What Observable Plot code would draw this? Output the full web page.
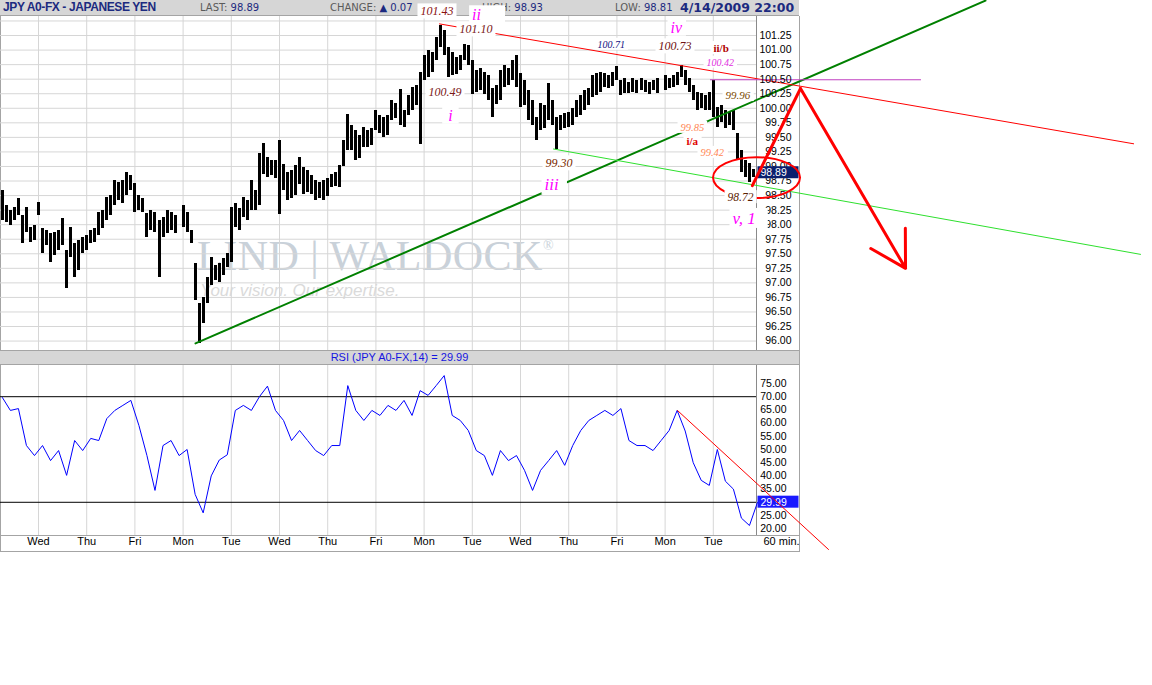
<!DOCTYPE html>
<html><head><meta charset="utf-8">
<script src="https://cdn.jsdelivr.net/npm/d3@7"></script>
<script src="https://cdn.jsdelivr.net/npm/@observablehq/plot@0.6"></script>
<style>
body{margin:0;background:#fff;}
#wrap{position:relative;width:1152px;height:685px;overflow:hidden;background:#fff;font-family:"Liberation Sans",Arial,sans-serif;}
.a{position:absolute;}
.hd{position:absolute;top:1px;font-family:"DejaVu Sans",sans-serif;font-size:10px;color:#5a5a5a;white-space:nowrap;line-height:14px;}
.hd b{font-weight:normal;color:#1c2a80;}
</style></head><body>
<div id="wrap">
  <div class="a" style="left:0;top:0;width:799px;height:15px;background:#d6d6d6;border-bottom:1px solid #a4a4a4;"></div>
  <div class="a" style="left:3px;top:0;font:bold 12px 'Liberation Sans',Arial,sans-serif;letter-spacing:-0.4px;color:#1c2a80;line-height:15px;white-space:nowrap;">JPY A0-FX - JAPANESE YEN</div>
  <div class="hd" style="left:200px;">LAST: <b>98.89</b></div>
  <div class="hd" style="left:330px;">CHANGE: <b>▲ 0.07</b></div>
  <div class="hd" style="left:482px;">HIGH: <b>98.93</b></div>
  <div class="hd" style="left:615px;">LOW: <b>98.81</b></div>
  <div class="a" style="left:680px;top:0;font:bold 12.5px 'DejaVu Sans',sans-serif;color:#1c2a80;line-height:15px;white-space:nowrap;">4/14/2009 22:00</div>
  <!-- panel frames -->
  <div class="a" style="left:0;top:16px;width:798px;height:535px;border:1px solid #a4a4a4;border-top:none;box-sizing:content-box;"></div>
  <div class="a" style="left:0;top:350px;width:799px;height:13px;background:#d6d6d6;border-top:1px solid #a4a4a4;border-bottom:1px solid #a4a4a4;"></div>
  <div class="a" id="rsititle" style="left:0;top:351px;width:799px;height:13px;text-align:center;font:11px 'Liberation Sans Narrow','Liberation Sans',sans-serif;color:#1515e0;line-height:13px;">RSI (JPY A0-FX,14) = 29.99</div>
  <div class="a" style="left:0;top:535px;width:799px;height:1px;background:#a4a4a4;"></div>
  <div class="a" style="left:756px;top:16px;width:1px;height:334px;background:#8a8a8a;"></div>
  <div class="a" style="left:756px;top:365px;width:1px;height:170px;background:#8a8a8a;"></div>
  <!-- watermark -->
  <div class="a" style="left:197px;top:232px;font:42px 'Liberation Serif',serif;color:#c9d1d9;white-space:nowrap;letter-spacing:0.5px;">LIND | WALDOCK<span style="font-size:14px;vertical-align:top;position:relative;top:6px;">®</span></div>
  <div class="a" style="left:200px;top:281px;font:italic 17px 'Liberation Sans',Arial,sans-serif;color:#dadada;white-space:nowrap;">Your vision. Our expertise.</div>
  <div class="a" id="price" style="left:0;top:0;"></div>
  <div class="a" id="rsi" style="left:0;top:364px;"></div>
</div>
<script>
// ---------- data ----------
const days = ["Wed","Thu","Fri","Mon","Tue","Wed","Thu","Fri","Mon","Tue","Wed","Thu","Fri","Mon","Tue"];
const dayTicks = [0,1,2,3,4,5,6,7,8,9,10,11,12,13,14];
const priceTicks = [96.00,96.25,96.50,96.75,97.00,97.25,97.50,97.75,98.00,98.25,98.50,98.75,99.00,99.25,99.50,99.75,100.00,100.25,100.50,100.75,101.00,101.25];
const priceGrid = [96.00,96.25,96.50,96.75,97.00,97.25,97.50,97.75,98.00,98.25,98.50,98.75,99.00,99.25,99.50,99.75,100.00,100.25,100.50,100.75,101.00,101.25,101.50];
const rsiTicks = [20,25,30,35,40,45,50,55,60,65,70,75];
const rsiBands = [70,30];
const lastClose = 98.89;
const lastRsi = 29.99;

// 2-hour bars, 12 per day, first bar at day -0.75 (null = weekend gap)
const barStart = -0.75, barsPerDay = 12;
const barHigh = [98.59,98.33,98.24,98.29,98.45,98.16,98.29,97.95,97.99,98.38,
 97.93,97.90,97.85,97.86,97.90,98.10,97.56,97.95,97.68,97.73,
 97.78,97.81,97.90,97.93,98.21,98.24,98.47,98.50,98.76,98.72,
 98.76,98.90,98.84,98.71,98.50,98.45,98.19,98.24,98.21,98.07,
 98.12,98.24,98.21,98.16,null,98.33,98.21,97.90,97.33,96.64,
 96.75,97.09,97.44,97.30,97.33,97.42,97.50,98.29,98.36,98.28,
 98.47,98.41,98.76,98.59,99.22,99.39,99.15,99.10,99.10,99.45,
 99.03,98.90,98.93,99.02,99.15,98.98,98.93,98.84,98.76,98.72,
 98.76,98.79,98.86,98.90,99.02,99.45,99.89,99.70,99.62,99.53,
 99.67,99.62,99.65,99.96,99.88,99.84,99.88,100.13,100.08,100.32,
 99.96,100.22,100.36,100.39,100.61,100.91,100.99,100.96,101.22,101.43,
 101.34,101.04,100.96,100.87,100.91,101.10,101.08,100.82,100.65,100.68,
 100.61,100.56,100.34,100.39,100.65,100.73,100.68,100.82,100.91,100.60,
 100.48,100.30,100.13,99.84,100.08,100.05,100.43,100.13,99.84,99.88,
 99.91,99.93,100.00,100.13,100.22,100.30,100.34,100.56,100.60,100.61,
 100.60,100.56,100.61,100.71,100.48,100.51,100.44,100.51,100.48,100.51,
 100.48,100.44,100.48,100.51,null,100.56,100.51,100.56,100.61,100.73,
 100.65,100.51,100.39,100.27,100.25,100.22,100.27,100.48,100.01,100.05,
 99.96,99.93,99.96,99.57,99.27,99.10,99.05,98.95];
const barLow = [98.07,98.04,97.99,98.07,98.16,97.68,97.86,97.69,97.73,98.16,
 97.50,97.64,97.35,97.47,97.56,97.64,96.90,97.44,97.09,97.21,
 97.50,97.56,97.68,97.69,97.81,97.93,98.07,98.16,98.33,98.41,
 98.36,98.50,98.59,98.21,98.24,98.21,97.78,97.90,97.86,97.09,
 97.78,97.85,97.90,97.85,null,97.95,97.86,97.68,96.70,95.96,
 96.30,96.64,96.95,97.04,97.01,97.13,97.26,97.35,97.95,97.90,
 98.12,98.07,98.24,98.24,98.33,98.86,98.81,98.84,98.79,98.17,
 98.59,98.41,98.45,98.50,98.69,98.52,98.55,98.52,98.41,98.45,
 98.41,98.48,98.64,98.66,98.64,99.00,99.27,99.27,99.10,99.14,
 99.33,99.33,99.36,99.62,99.57,99.50,99.53,99.79,99.82,99.70,
 99.67,99.88,99.96,100.05,99.38,100.48,100.53,100.61,100.82,101.04,
 100.91,100.53,100.56,100.58,100.65,100.82,100.73,100.24,100.27,100.30,
 100.24,100.13,99.84,100.06,100.13,100.36,100.39,100.48,100.36,100.01,
 100.05,99.79,99.70,99.45,99.62,99.65,99.79,99.70,99.30,99.62,
 99.65,99.67,99.70,99.84,99.88,99.96,100.05,100.18,100.22,100.27,
 100.36,100.34,100.37,100.48,100.22,100.25,100.25,100.27,100.25,100.30,
 100.27,100.24,100.30,100.25,null,100.30,100.34,100.36,100.39,100.53,
 100.39,100.27,100.13,99.96,100.00,99.96,99.96,99.84,99.67,99.75,
 99.65,99.70,99.62,99.10,98.90,98.81,98.72,98.81];

// RSI(14), one reading every 4 hours (6 per day)
const rsiStart = -0.75, rsiPerDay = 6;
const rsiValues = [69.7,64.8,65.5,51.5,47.7,51.5,45.8,49.6,40.2,53.4,
 49.6,54.2,53.4,61.7,64.8,66.7,68.6,59.1,47.7,34.5,
 51.5,53.4,47.7,50,33,26,40,46,48,64.8,
 66.7,64.8,70,74,64.8,61,53.4,57.2,53.4,49.6,
 47.7,51.5,51.5,74.2,64.8,61,64.8,62.9,66.7,64.8,
 68.6,62.9,72.3,70.5,74.2,78,62.9,61,57.2,49.6,
 47.7,40.2,49.6,45.8,47.7,42.1,34.5,42.1,45.8,49.6,
 44,51.5,57.2,61,62.9,64.8,62.9,65.5,53.4,51.5,
 51.5,49.6,53.4,57.2,64.8,57,45,38.3,36.4,50,
 38,35,24,21.2,29.99];

// trend lines (day, price)
const greenLine = [{d:3.257,p:95.96},{d:19.647,p:101.85}];
const limeLine  = [{d:10.685,p:99.30},{d:22.863,p:97.49}];
const redTop    = [{d:8.32,p:101.45},{d:22.72,p:99.39}];
const waveILevel= [{d:13.94,p:100.49},{d:18.30,p:100.49}];
const arrowUp   = [{d:14.81,p:98.67},{d:15.809,p:100.34}];
const arrowDown = [{d1:15.809,p1:100.34,d2:17.988,p2:97.25}];
const circle    = {d:14.907,p:98.80,rd:0.9025,rp:0.352};
const rsiTrend  = [{d:13.257,r:64.77},{d:16.39,r:12.12}];

// wave annotations
const notes = [
 {t:"101.43",d:7.925,p:101.662,c:"#8a1010",s:12,i:true},
 {t:"ii",d:8.996,p:101.60,c:"#ff00ff",s:16,i:true,padR:24},
 {t:"101.10",d:8.734,p:101.353,c:"#7a1818",s:12,i:true},
 {t:"100.49",d:8.091,p:100.271,c:"#7a1818",s:12,i:true},
 {t:"i",d:8.50,p:99.875,c:"#ff00ff",s:16,i:true,padR:6,padL:6},
 {t:"100.71",d:11.598,p:101.095,c:"#101080",s:10,i:true},
 {t:"iv",d:13.112,p:101.387,c:"#ff00ff",s:16,i:true},
 {t:"100.73",d:12.863,p:101.061,c:"#701010",s:12,i:true},
 {t:"ii/b",d:14.004,p:101.027,c:"#b00000",s:11,b:true},
 {t:"100.42",d:13.859,p:100.786,c:"#e030e0",s:10,i:true},
 {t:"99.96",d:14.253,p:100.219,c:"#7a4a00",s:11,i:true},
 {t:"99.85",d:13.32,p:99.669,c:"#ff8855",s:10.5,i:true},
 {t:"i/a",d:13.444,p:99.429,c:"#e00000",s:11,b:true},
 {t:"99.42",d:13.734,p:99.240,c:"#ff8855",s:10.5,i:true},
 {t:"99.30",d:10.519,p:99.051,c:"#7a2a00",s:12,i:true},
 {t:"iii",d:10.498,p:98.690,c:"#ff00ff",s:17,i:true,padR:8},
 {t:"98.72",d:14.295,p:98.467,c:"#5a2000",s:11.5,i:true},
 {t:"v, 1",d:14.398,p:98.106,c:"#ff00ff",s:17,i:true,padR:12}
];

// ---------- build ----------
const W = 1152, frameRight = 756;
const xDomain = [-0.7884, 14.896];
const priceDomain = [95.838, 101.577];
const rsiDomain = [17.42, 81.82];

const bars = barHigh.map((h,i)=>({d: barStart + i/barsPerDay, high:h, low:barLow[i]})).filter(b=>b.high!=null);
const rsiData = rsiValues.map((r,k)=>({d: rsiStart + k/rsiPerDay, r}));

const noteMarks = notes.map(n => Plot.text([n], {x:"d", y:"p", text:"t", fill:n.c, fontSize:n.s,
  fontStyle:n.i?"italic":"normal", fontWeight:n.b?"bold":"normal", fontFamily:"Liberation Serif, serif",
  textAnchor:"start"}));

const priceChart = Plot.plot({
  width: W, height: 351, marginLeft: 0, marginRight: W - frameRight, marginTop: 16, marginBottom: 1,
  x: {domain: xDomain, axis: null},
  y: {domain: priceDomain, axis: null},
  style: {background: "transparent", overflow: "visible"},
  marks: [
    Plot.ruleY(priceGrid, {y: d=>d, stroke: "#d6d6d6", strokeOpacity: 1}),
    Plot.ruleX(dayTicks, {x: d=>d, stroke: "#d6d6d6", strokeOpacity: 1}),
    Plot.ruleX(bars, {x: "d", y1: "low", y2: "high", stroke: "#000", strokeWidth: 3, shapeRendering: "crispEdges"}),
    Plot.line(greenLine, {x:"d", y:"p", stroke:"#008000", strokeWidth:2}),
    Plot.line(limeLine, {x:"d", y:"p", stroke:"#2ee02e", strokeWidth:1}),
    Plot.line(redTop, {x:"d", y:"p", stroke:"#ff0000", strokeWidth:1}),
    Plot.line(waveILevel, {x:"d", y:"p", stroke:"#c040c0", strokeWidth:1}),
    Plot.text(priceTicks, {y: d=>d, text: d=>d.toFixed(2), frameAnchor:"right", textAnchor:"end", dx:35,
      fontSize:10.5, fontFamily:"Liberation Sans, Arial, sans-serif", fill:"#000"}),
    Plot.text([lastClose], {y: d=>d, text: d=>d.toFixed(2), frameAnchor:"right", textAnchor:"start", dx:4,
      fontSize:10.5, fontFamily:"Liberation Sans, Arial, sans-serif", fill:"#fff"}),
    Plot.line(arrowUp, {x:"d", y:"p", stroke:"#ff0000", strokeWidth:3, strokeLinecap:"round"}),
    Plot.arrow(arrowDown, {x1:"d1", y1:"p1", x2:"d2", y2:"p2", stroke:"#ff0000", strokeWidth:3, headLength:20, headAngle:60}),
    ...noteMarks
  ]
});
document.getElementById("price").appendChild(priceChart);

const rsiChart = Plot.plot({
  width: W, height: 188, marginLeft: 0, marginRight: W - frameRight, marginTop: 1, marginBottom: 17,
  x: {domain: xDomain, axis: null},
  y: {domain: rsiDomain, axis: null},
  style: {background: "transparent", overflow: "visible"},
  marks: [
    Plot.ruleX(dayTicks, {x: d=>d, stroke:"#d6d6d6", strokeOpacity:1}),
    Plot.ruleY(rsiBands, {y: d=>d, stroke:"#000", strokeWidth:1}),
    Plot.line(rsiData, {x:"d", y:"r", stroke:"#0000ff", strokeWidth:1}),
    Plot.text(rsiTicks, {y: d=>d, text: d=>d.toFixed(2), frameAnchor:"right", textAnchor:"end", dx:30,
      fontSize:10.5, fontFamily:"Liberation Sans, Arial, sans-serif", fill:"#000"}),
    Plot.text([lastRsi], {y: d=>d, text: d=>d.toFixed(2), frameAnchor:"right", textAnchor:"start", dx:4,
      fontSize:10.5, fontFamily:"Liberation Sans, Arial, sans-serif", fill:"#fff"}),
    Plot.line(rsiTrend, {x:"d", y:"r", stroke:"#ff0000", strokeWidth:1}),
    Plot.text(dayTicks, {x: d=>d, text: i=>days[i], frameAnchor:"bottom", dy:9,
      fontSize:11, fontFamily:"Liberation Sans Narrow, Liberation Sans, sans-serif", fill:"#000"}),
    Plot.text(["60 min."], {text: d=>d, frameAnchor:"bottom-right", textAnchor:"start", dx:7, dy:9,
      fontSize:11, fontFamily:"Liberation Sans Narrow, Liberation Sans, sans-serif", fill:"#000"})
  ]
});
document.getElementById("rsi").appendChild(rsiChart);

// ---------- post-render decorations ----------
const NS = "http://www.w3.org/2000/svg";
function boxFor(t, fill, p) {
  const b = t.getBBox();
  const r = document.createElementNS(NS, "rect");
  r.setAttribute("x", b.x - p.l); r.setAttribute("y", b.y - p.t);
  r.setAttribute("width", p.w != null ? p.w : b.width + p.l + p.r);
  r.setAttribute("height", b.height + p.t + p.b);
  r.setAttribute("fill", fill);
  if (t.getAttribute("transform")) r.setAttribute("transform", t.getAttribute("transform"));
  t.parentNode.insertBefore(r, t);
}
// white boxes behind the wave annotations
priceChart.querySelectorAll("text").forEach(t => {
  const txt = t.textContent;
  const n = notes.find(n => n.t === txt);
  if (n) boxFor(t, "#ffffff", {l: n.padL ?? 3, r: n.padR ?? 3, t: 1, b: 0});
  else if (txt === lastClose.toFixed(2) && t.getAttribute("fill") !== "#000" && (t.parentNode.getAttribute("fill") || "").toLowerCase() !== "#000")
    boxFor(t, "#0a1f6e", {l: 3, r: 0, t: 0, b: 0, w: 41});
});
rsiChart.querySelectorAll("text").forEach(t => {
  if (t.textContent === lastRsi.toFixed(2)) boxFor(t, "#1a1aff", {l: 3, r: 0, t: 0, b: 0, w: 41});
});

// hand-drawn circle around the last bars, positioned through the chart's scales
{
  const xs = priceChart.scale("x"), ys = priceChart.scale("y");
  const X = d3.scaleLinear(xs.domain, xs.range), Y = d3.scaleLinear(ys.domain, ys.range);
  const e = document.createElementNS(NS, "ellipse");
  const cx = X(circle.d), cy = Y(circle.p);
  e.setAttribute("cx", cx); e.setAttribute("cy", cy);
  e.setAttribute("rx", Math.abs(X(circle.d + circle.rd) - cx));
  e.setAttribute("ry", Math.abs(Y(circle.p + circle.rp) - cy));
  e.setAttribute("fill", "none"); e.setAttribute("stroke", "#ff0000"); e.setAttribute("stroke-width", 2);
  // place it just under the arrow (first thick red line group)
  const groups = Array.from(priceChart.children).filter(c => c.tagName === "g");
  const arrowG = groups.find(g => g.getAttribute("stroke-width") === "3" && (g.getAttribute("stroke")||"").toLowerCase() === "#ff0000");
  if (arrowG) priceChart.insertBefore(e, arrowG); else priceChart.appendChild(e);
}
</script>
</body></html>
